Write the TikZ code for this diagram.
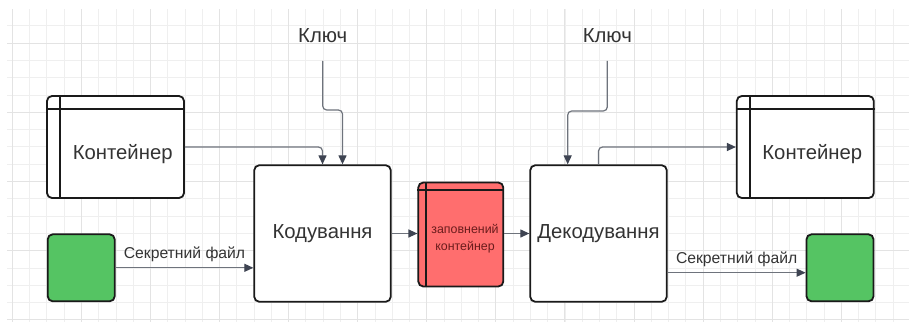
\documentclass[tikz,border=0pt]{standalone}
\usepackage{fontspec}
\setmainfont{Liberation Sans}
\usetikzlibrary{arrows.meta}
\definecolor{gridminor}{HTML}{EFEFEF}
\definecolor{gridmajor}{HTML}{E3E3E3}
\definecolor{txt}{HTML}{333333}
\definecolor{conn}{HTML}{6E737C}
\definecolor{tip}{HTML}{3E4452}
\definecolor{redfill}{HTML}{FF6E6E}
\definecolor{redtxt}{HTML}{6A1C1C}
\definecolor{greenfill}{HTML}{55C463}
\definecolor{outline}{HTML}{1A1A1A}
\begin{document}
\begin{tikzpicture}[x=1pt,y=-1pt,
  box/.style={draw=outline, line width=1.8pt, rounded corners=5pt, fill=white, inner sep=0pt},
  lbl/.style={text=txt, inner sep=0pt, font=\fontsize{20.3}{23}\selectfont},
  small/.style={text=txt, inner sep=0pt, font=\fontsize{15.7}{18}\selectfont},
  arr/.style={draw=conn, line width=1.2pt, rounded corners=4pt, -{Triangle[length=9pt,width=8pt,color=tip]}},
]
\useasboundingbox (0,0) rectangle (909,322);
\fill[white] (0,0) rectangle (909,322);
% grid
\foreach \i in {0,...,51} {
  \pgfmathsetmacro\xx{12.3+17.27*\i}
  \draw[gridminor, line width=0.8pt] (\xx,9) -- (\xx,322);
}
\foreach \k in {0,...,17} {
  \pgfmathsetmacro\yy{25.7+17.3*\k}
  \draw[gridminor, line width=0.8pt] (7,\yy) -- (909,\yy);
}
\foreach \i in {0,4,...,48} {
  \pgfmathsetmacro\xx{12.3+17.27*\i}
  \draw[gridmajor, line width=0.9pt] (\xx,9) -- (\xx,322);
}
\foreach \k in {1,5,...,17} {
  \pgfmathsetmacro\yy{25.7+17.3*\k}
  \draw[gridmajor, line width=0.9pt] (7,\yy) -- (909,\yy);
}

% nodes
\node[box, minimum width=137pt, minimum height=102pt] (c1) at (115.5,147) {};
\draw[outline, line width=1.8pt] ([yshift=-14pt]c1.north west) -- ([yshift=-14pt]c1.north east);
\draw[outline, line width=1.8pt] ([xshift=14pt]c1.north west) -- ([xshift=14pt]c1.south west);
\node[lbl] (c1t) at (122.7,154) {Контейнер};

\node[box, minimum width=137pt, minimum height=102pt] (c2) at (805.3,147) {};
\draw[outline, line width=1.8pt] ([yshift=-14pt]c2.north west) -- ([yshift=-14pt]c2.north east);
\draw[outline, line width=1.8pt] ([xshift=14pt]c2.north west) -- ([xshift=14pt]c2.south west);
\node[lbl] (c2t) at (812.3,154) {Контейнер};

\node[box, minimum width=136.5pt, minimum height=136.5pt] (kod) at (322.5,233.5) {};
\node[lbl] (kodt) at (322.5,233.5) {Кодування};

\node[box, minimum width=136.5pt, minimum height=136.5pt] (dek) at (598.5,233.5) {};
\node[lbl] (dekt) at (598.5,233.5) {Декодування};

\node[box, fill=redfill, minimum width=85pt, minimum height=104pt] (red) at (460.8,234.5) {};
\draw[outline, line width=1.8pt] ([yshift=-8.3pt]red.north west) -- ([yshift=-8.3pt]red.north east);
\draw[outline, line width=1.8pt] ([xshift=8.4pt]red.north west) -- ([xshift=8.4pt]red.south west);
\node[text=redtxt, inner sep=0pt, align=center, font=\fontsize{12.4}{17}\selectfont] (redt) at (465,238.5) {заповнений\\контейнер};

\node[box, fill=greenfill, minimum width=67pt, minimum height=67pt] (g1) at (81.2,267.8) {};
\node[box, fill=greenfill, minimum width=67pt, minimum height=67pt] (g2) at (840,267.8) {};

\node[lbl, minimum height=49.4pt] (key1) at (322.7,36) {Ключ};
\node[lbl, minimum height=49.4pt] (key2) at (607.3,36) {Ключ};

% connectors
\draw[arr] (c1.east) -| (kod.north);
\draw[arr] (key1.south) -- (key1.south |- 0,110) -| ([xshift=20pt]kod.north);
\draw[arr] (key2.south) -- (key2.south |- 0,111) -| ([xshift=-30.8pt]dek.north);
\draw[arr] (kod.east) -- (kod.east -| red.west);
\draw[arr] (red.east |- kod.east) -- (kod.east -| dek.west);
\draw[arr] (dek.north) |- (c2.west);
\draw[arr] (g1.east) -- node[small, midway, above=5.5pt] (s1) {Секретний файл} (g1.east -| kod.west);
\draw[arr] ([yshift=-39.2pt]dek.east) -- node[small, midway, above=5.5pt] (s2) {Секретний файл} ([yshift=-39.2pt]dek.east -| g2.west);
\end{tikzpicture}
\end{document}
